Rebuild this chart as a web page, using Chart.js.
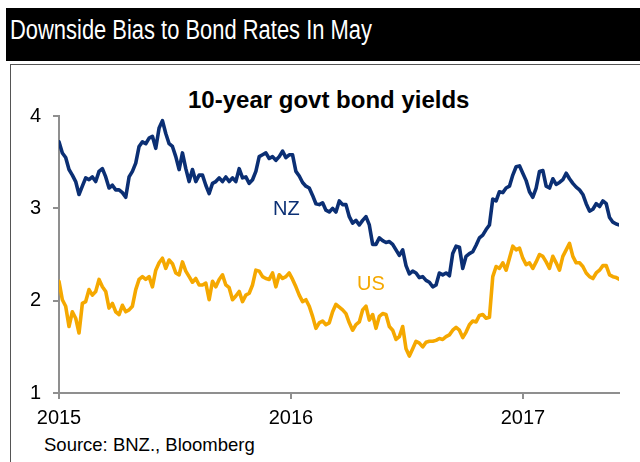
<!DOCTYPE html>
<html>
<head>
<meta charset="utf-8">
<script src="https://cdn.jsdelivr.net/npm/chart.js@4.4.1/dist/chart.umd.min.js"></script>
<style>
    body { margin: 0; background: #fff; font-family: "Liberation Sans", Arial, sans-serif; }
    #wrap { position: relative; width: 640px; height: 462px; overflow: hidden; }
    #topbar { position: absolute; left: 6px; top: 8px; width: 634px; height: 53px; background: #000; }
    #topbar span { position: absolute; left: 4px; top: 9px; font-size: 27px; line-height: 1; color: #fff; white-space: nowrap; transform: scaleX(0.812); transform-origin: left top; }
    #box { position: absolute; left: 10px; top: 64px; width: 640px; height: 420px; border-left: 1px solid #555; border-top: 1px solid #555; }
    #subtitle { position: absolute; left: 188px; top: 88px; font-size: 24px; font-weight: bold; line-height: 1; color: #000; white-space: nowrap; }
    #source { position: absolute; left: 44px; top: 436px; font-size: 18.5px; line-height: 1; color: #000; white-space: nowrap; }
    #chart { position: absolute; left: 0; top: 0; }
</style>
</head>
<body>
<div id="wrap">
    <div id="topbar"><span>Downside Bias to Bond Rates In May</span></div>
    <div id="box"></div>
    <div id="subtitle">10-year govt bond yields</div>
    <div id="source">Source: BNZ., Bloomberg</div>
    <canvas id="chart" width="640" height="462"></canvas>
</div>
<script>
// readings, one every ~5 days from 1 Jan 2015
var startYear = 2015;
var sampleDays = 5.25;

var nzYields = [
    3.72, 3.60, 3.55, 3.42, 3.36, 3.29, 3.15, 3.24, 3.33, 3.31, 3.34, 3.29, 3.40, 3.43, 3.34, 3.22, 3.25, 3.20, 3.20, 3.17,
    3.12, 3.34, 3.40, 3.49, 3.67, 3.72, 3.70, 3.76, 3.78, 3.65, 3.87, 3.95, 3.81, 3.70, 3.67, 3.56, 3.42, 3.60, 3.43, 3.29,
    3.42, 3.29, 3.36,
    3.36, 3.25, 3.16, 3.27, 3.29, 3.33, 3.29, 3.34, 3.29, 3.33, 3.29, 3.43, 3.33, 3.34, 3.27, 3.31, 3.40, 3.56, 3.58, 3.60,
    3.54, 3.56, 3.52, 3.56, 3.62, 3.55, 3.58, 3.58, 3.40, 3.35, 3.28, 3.24, 3.22, 3.14, 3.05, 3.04, 3.06, 2.98, 2.96, 3.00,
    2.96, 3.08,
    3.04, 3.04, 2.91, 2.84, 2.87, 2.82, 2.87, 2.91, 2.82, 2.61, 2.61, 2.68, 2.65, 2.63, 2.64, 2.61, 2.55, 2.49, 2.55, 2.38,
    2.29, 2.32, 2.30, 2.25, 2.26, 2.22, 2.20, 2.15, 2.17, 2.30, 2.28, 2.30, 2.27, 2.51, 2.59, 2.58, 2.35, 2.48, 2.51, 2.53,
    2.60, 2.68,
    2.71, 2.77, 2.82, 3.10, 3.08, 3.18, 3.17, 3.22, 3.24, 3.36, 3.45, 3.46, 3.38, 3.30, 3.18, 3.12, 3.22, 3.40, 3.41, 3.24,
    3.22, 3.32, 3.26, 3.28, 3.31, 3.38, 3.32, 3.27, 3.23, 3.20, 3.15, 3.05, 2.97, 2.99, 3.05, 3.02, 3.08, 3.05, 2.90, 2.85,
    2.83, 2.82
];

var usYields = [
    2.21, 2.01, 1.94, 1.72, 1.88, 1.81, 1.65, 1.97, 1.99, 2.12, 2.06, 2.10, 2.23, 2.15, 2.10, 1.92, 1.97, 1.88, 1.85, 1.95,
    1.88, 1.90, 1.94, 2.12, 2.23, 2.26, 2.23, 2.26, 2.15, 2.33, 2.41, 2.46, 2.35, 2.44, 2.40, 2.30, 2.28, 2.42, 2.32, 2.26,
    2.20, 2.24, 2.17,
    2.17, 2.19, 2.01, 2.21, 2.15, 2.23, 2.28, 2.17, 2.14, 2.01, 2.05, 2.10, 1.99, 2.06, 2.08, 2.17, 2.33, 2.32, 2.26, 2.24,
    2.23, 2.30, 2.15, 2.28, 2.24, 2.26, 2.30, 2.23, 2.15, 2.06, 1.99, 2.01, 1.94, 1.83, 1.70, 1.76, 1.78, 1.74, 1.76, 1.88,
    1.96, 1.93,
    1.90, 1.86, 1.76, 1.68, 1.74, 1.77, 1.90, 1.94, 1.79, 1.85, 1.70, 1.83, 1.86, 1.85, 1.72, 1.68, 1.58, 1.61, 1.72, 1.48,
    1.40, 1.48, 1.56, 1.54, 1.50, 1.55, 1.56, 1.56, 1.57, 1.59, 1.58, 1.61, 1.63, 1.68, 1.71, 1.68, 1.60, 1.66, 1.74, 1.78,
    1.77, 1.84,
    1.85, 1.81, 1.82, 2.26, 2.37, 2.35, 2.41, 2.33, 2.46, 2.59, 2.55, 2.57, 2.46, 2.39, 2.41, 2.35, 2.42, 2.50, 2.48, 2.42,
    2.35, 2.48, 2.41, 2.33, 2.48, 2.55, 2.62, 2.48, 2.41, 2.41, 2.37, 2.30, 2.26, 2.24, 2.30, 2.33, 2.38, 2.38, 2.28, 2.26,
    2.25, 2.23
];

var yearTicks = [2015, 2016, 2017];
var yTicks = [1, 2, 3, 4];

// series name labels sit on the chart at these data positions
var seriesLabels = [
    { text: "NZ", x: 2015.98, y: 2.99, color: "#0b2f74" },
    { text: "US", x: 2016.345, y: 2.18, color: "#f5a800" }
];

function toPoints(values){
    return values.map((v, i) => ({ x: startYear + i * sampleDays / 365, y: v }))
}

const axisGrey = "#8f8f8f";

const labelPlugin = {
    id: "seriesLabels",
    afterDatasetsDraw(chart){
        const c = chart.ctx;
        c.save();
        c.font = "20px 'Liberation Sans', Arial";
        c.textAlign = "center";
        c.textBaseline = "middle";
        seriesLabels.forEach(l => {
            c.fillStyle = l.color;
            c.fillText(l.text, chart.scales.x.getPixelForValue(l.x), chart.scales.y.getPixelForValue(l.y));
        });
        c.restore();
    }
};

new Chart(document.getElementById("chart"), {
    type: "line",
    data: {
        datasets: [
            { label: "NZ", data: toPoints(nzYields), borderColor: "#0b2f74", borderWidth: 3.6, pointRadius: 0, tension: 0, borderJoinStyle: "round", borderCapStyle: "round" },
            { label: "US", data: toPoints(usYields), borderColor: "#f5a800", borderWidth: 3.6, pointRadius: 0, tension: 0, borderJoinStyle: "round", borderCapStyle: "round" }
        ]
    },
    options: {
        responsive: false,
        animation: false,
        layout: { padding: { top: 116, left: 0, right: 21, bottom: 0 } },
        plugins: { legend: { display: false }, tooltip: { enabled: false } },
        scales: {
            x: {
                type: "linear",
                min: 2015,
                max: 2017.414,
                afterBuildTicks: s => { s.ticks = yearTicks.map(v => ({ value: v })) },
                afterFit: s => { s.height = 69 },
                border: { color: axisGrey, width: 2 },
                grid: { drawOnChartArea: false, color: axisGrey, lineWidth: 2, tickLength: 6 },
                ticks: { color: "#000", padding: 7, maxRotation: 0, font: { size: 20, family: "'Liberation Sans', Arial" }, callback: v => String(v) }
            },
            y: {
                min: 1,
                max: 4,
                afterBuildTicks: s => { s.ticks = yTicks.map(v => ({ value: v })) },
                afterFit: s => { s.width = 59 },
                border: { color: axisGrey, width: 2 },
                grid: { drawOnChartArea: false, color: axisGrey, lineWidth: 2, tickLength: 6 },
                ticks: { color: "#000", padding: 12, font: { size: 20, family: "'Liberation Sans', Arial" } }
            }
        }
    },
    plugins: [labelPlugin]
});
</script>
</body>
</html>
